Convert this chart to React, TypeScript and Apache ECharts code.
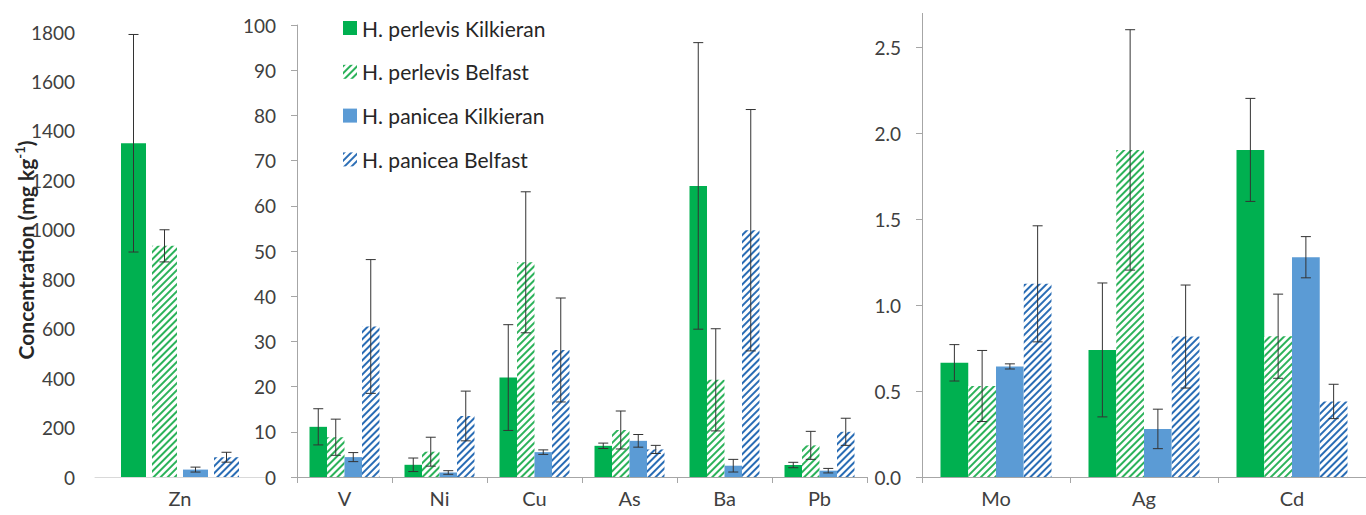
import React, { useEffect, useRef } from "react";
import * as echarts from "echarts";

const seriesNames = [
  "H. perlevis Kilkieran",
  "H. perlevis Belfast",
  "H. panicea Kilkieran",
  "H. panicea Belfast",
];

const leftCategories = ["Zn"];
const midCategories = ["V", "Ni", "Cu", "As", "Ba", "Pb"];
const rightCategories = ["Mo", "Ag", "Cd"];

// Left panel (Zn)
const perlevisKilkieranLeft = [1350];
const perlevisKilkieranLeftErr = [440];
const perlevisBelfastLeft = [935];
const perlevisBelfastLeftErr = [65];
const paniceaKilkieranLeft = [30];
const paniceaKilkieranLeftErr = [10];
const paniceaBelfastLeft = [80];
const paniceaBelfastLeftErr = [20];

// Middle panel (V, Ni, Cu, As, Ba, Pb)
const perlevisKilkieranMid = [11.1, 2.7, 22.0, 6.9, 64.4, 2.65];
const perlevisKilkieranMidErr = [4.0, 1.5, 11.7, 0.6, 31.7, 0.6];
const perlevisBelfastMid = [8.8, 5.6, 47.5, 10.4, 21.5, 7.0];
const perlevisBelfastMidErr = [4.0, 3.2, 15.6, 4.2, 11.3, 3.1];
const paniceaKilkieranMid = [4.4, 1.0, 5.5, 8.0, 2.5, 1.4];
const paniceaKilkieranMidErr = [1.0, 0.4, 0.5, 1.4, 1.4, 0.5];
const paniceaBelfastMid = [33.3, 13.5, 28.1, 6.1, 54.6, 10.0];
const paniceaBelfastMidErr = [14.8, 5.5, 11.5, 0.9, 26.7, 3.0];

// Right panel (Mo, Ag, Cd)
const perlevisKilkieranRight = [0.665, 0.74, 1.905];
const perlevisKilkieranRightErr = [0.106, 0.39, 0.3];
const perlevisBelfastRight = [0.53, 1.905, 0.82];
const perlevisBelfastRightErr = [0.207, 0.7, 0.245];
const paniceaKilkieranRight = [0.644, 0.28, 1.28];
const paniceaKilkieranRightErr = [0.015, 0.115, 0.12];
const paniceaBelfastRight = [1.125, 0.818, 0.44];
const paniceaBelfastRightErr = [0.338, 0.3, 0.1];

const leftTicks = { min: 0, max: 1800, interval: 200 };
const midTicks = { min: 0, max: 100, interval: 10 };
const rightTicks = { min: 0, max: 2.7, interval: 0.5 };

const yTitle = "Concentration (mg kg";
const yTitleSup = "-1";

const GREEN = "#00B050";
const GREEN_HATCH = "#2CB25A";
const BLUE = "#5B9BD5";
const BLUE_HATCH = "#2A6DB5";
const FONT = "Lato";
const LABEL_COLOR = "#404040";
const AXIS_COLOR = "#A6A6A6";

function hatch(color: string) {
  return {
    symbol: "rect",
    symbolSize: 1,
    color,
    backgroundColor: "#ffffff",
    dashArrayX: [1, 0],
    dashArrayY: [2, 2.5],
    rotation: -Math.PI / 4,
  };
}

const styles = [
  { color: GREEN },
  { color: "#ffffff", decal: hatch(GREEN_HATCH) },
  { color: BLUE },
  { color: "#ffffff", decal: hatch(BLUE_HATCH) },
];

export default function App() {
  const ref = useRef<HTMLDivElement>(null);

  useEffect(() => {
    if (!ref.current) return;
    const chart = echarts.init(ref.current, undefined, { renderer: "svg" });

    const panels = [
      {
        cats: leftCategories,
        vals: [perlevisKilkieranLeft, perlevisBelfastLeft, paniceaKilkieranLeft, paniceaBelfastLeft],
        errs: [perlevisKilkieranLeftErr, perlevisBelfastLeftErr, paniceaKilkieranLeftErr, paniceaBelfastLeftErr],
        bw: 25,
        gap: 6,
      },
      {
        cats: midCategories,
        vals: [perlevisKilkieranMid, perlevisBelfastMid, paniceaKilkieranMid, paniceaBelfastMid],
        errs: [perlevisKilkieranMidErr, perlevisBelfastMidErr, paniceaKilkieranMidErr, paniceaBelfastMidErr],
        bw: 17.5,
        gap: 0,
      },
      {
        cats: rightCategories,
        vals: [perlevisKilkieranRight, perlevisBelfastRight, paniceaKilkieranRight, paniceaBelfastRight],
        errs: [perlevisKilkieranRightErr, perlevisBelfastRightErr, paniceaKilkieranRightErr, paniceaBelfastRightErr],
        bw: 27.75,
        gap: 0,
      },
    ];

    const series: any[] = [];
    panels.forEach((p, pi) => {
      p.vals.forEach((v, si) => {
        series.push({
          type: "bar",
          name: seriesNames[si],
          xAxisIndex: pi,
          yAxisIndex: pi,
          data: v,
          barWidth: p.bw,
          barGap: ((p.gap / p.bw) * 100).toFixed(1) + "%",
          itemStyle: styles[si],
          emphasis: { disabled: true },
        });
      });
      const errData: number[][] = [];
      p.vals.forEach((v, si) => {
        v.forEach((m, ci) => {
          errData.push([ci, si, m, p.errs[si][ci]]);
        });
      });
      const bw = p.bw;
      const gap = p.gap;
      series.push({
        type: "custom",
        name: "err" + pi,
        xAxisIndex: pi,
        yAxisIndex: pi,
        z: 10,
        clip: false,
        encode: { x: 0, y: 2 },
        data: errData,
        renderItem: (params: any, api: any) => {
          const ci = api.value(0);
          const si = api.value(1);
          const m = api.value(2);
          const e = api.value(3);
          const hi = api.coord([ci, m + e]);
          const lo = api.coord([ci, m - e]);
          const x = hi[0] + (si - 1.5) * (bw + gap);
          const cap = 5;
          const st = { stroke: "#333333", lineWidth: 1 };
          return {
            type: "group",
            children: [
              { type: "line", shape: { x1: x, y1: hi[1], x2: x, y2: lo[1] }, style: st },
              { type: "line", shape: { x1: x - cap, y1: hi[1], x2: x + cap, y2: hi[1] }, style: st },
              { type: "line", shape: { x1: x - cap, y1: lo[1], x2: x + cap, y2: lo[1] }, style: st },
            ],
          };
        },
      });
    });

    const catLabel = {
      fontFamily: FONT,
      fontSize: 20,
      color: LABEL_COLOR,
      margin: 11,
    };
    const valLabel = {
      fontFamily: FONT,
      fontSize: 19,
      color: LABEL_COLOR,
      margin: 21,
    };

    chart.setOption({
      animation: false,
      grid: [
        { left: 95, width: 170, top: 32, height: 445 },
        { left: 297, width: 570, top: 25, height: 452 },
        { left: 922, width: 450, top: 13.4, height: 463.6 },
      ],
      legend: {
        data: seriesNames,
        orient: "vertical",
        left: 338,
        top: 11,
        itemWidth: 14,
        itemHeight: 14,
        itemGap: 19.8,
        icon: "rect",
        textStyle: { fontFamily: FONT, fontSize: 21, color: "#262626", lineHeight: 24 },
      },
      graphic: [
        {
          type: "text",
          x: 25,
          y: 250,
          rotation: Math.PI / 2,
          style: {
            text: "{b|" + yTitle + "}{sup|" + yTitleSup + "}{b|)}",
            align: "center",
            verticalAlign: "middle",
            rich: {
              b: { fontFamily: FONT, fontSize: 21, fontWeight: "bold", fill: "#262626" },
              sup: { fontFamily: FONT, fontSize: 13, fontWeight: "bold", fill: "#262626", verticalAlign: "top", padding: [0, 0, 10, 0] },
            },
          },
        },
      ],
      xAxis: [
        {
          type: "category",
          gridIndex: 0,
          data: leftCategories,
          axisLine: { lineStyle: { color: "#D9D9D9" } },
          axisTick: { show: false },
          axisLabel: catLabel,
        },
        {
          type: "category",
          gridIndex: 1,
          data: midCategories,
          axisLine: { lineStyle: { color: AXIS_COLOR } },
          axisTick: { show: true, length: 6, lineStyle: { color: AXIS_COLOR } },
          axisLabel: catLabel,
        },
        {
          type: "category",
          gridIndex: 2,
          data: rightCategories,
          axisLine: { lineStyle: { color: AXIS_COLOR } },
          axisTick: { show: true, length: 6, lineStyle: { color: AXIS_COLOR } },
          axisLabel: catLabel,
        },
      ],
      yAxis: [
        {
          type: "value",
          gridIndex: 0,
          ...leftTicks,
          axisLine: { show: false },
          axisTick: { show: false },
          splitLine: { show: false },
          axisLabel: { ...valLabel, margin: 20, formatter: (v: number) => String(v) },
        },
        {
          type: "value",
          gridIndex: 1,
          ...midTicks,
          axisLine: { show: true, lineStyle: { color: AXIS_COLOR } },
          axisTick: { show: true, length: 6, lineStyle: { color: AXIS_COLOR } },
          splitLine: { show: false },
          axisLabel: { ...valLabel, formatter: (v: number) => String(v) },
        },
        {
          type: "value",
          gridIndex: 2,
          ...rightTicks,
          axisLine: { show: true, lineStyle: { color: AXIS_COLOR } },
          axisTick: { show: true, length: 6, lineStyle: { color: AXIS_COLOR } },
          splitLine: { show: false },
          axisLabel: {
            ...valLabel,
            showMaxLabel: false,
            formatter: (v: number) => v.toFixed(1),
          },
        },
      ],
      series,
    });

    return () => chart.dispose();
  }, []);

  return (
    <div
      ref={ref}
      style={{ position: "fixed", left: 0, top: 0, width: 1366, height: 515, background: "#fff" }}
    />
  );
}
